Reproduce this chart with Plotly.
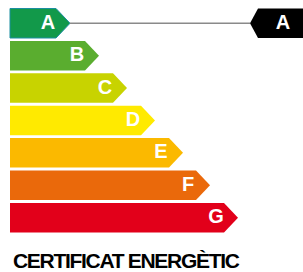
import plotly.graph_objects as go

categories = ["A", "B", "C", "D", "E", "F", "G"]
bar_lengths = [60, 89, 117, 145, 173, 200, 228]
colors = ["#12994a", "#5aad2f", "#c8d300", "#ffea00", "#fbb900", "#ea690b", "#e2001a"]
outline = ["#1b8fa0", None, None, None, None, None, None]
rating = "A"
title_text = "CERTIFICAT ENERGÈTIC"

W, H = 303, 272
x0 = 10
top0 = 8.5
pitch = 32.4
bh = 29.5
arrow = 14

fig = go.Figure()
mids = {}
tips = {}
for i, (cat, ln, col, oc) in enumerate(zip(categories, bar_lengths, colors, outline)):
    t = top0 + i * pitch
    b = t + bh
    m = (t + b) / 2
    tip = x0 + ln
    mids[cat] = m
    tips[cat] = tip
    fig.add_trace(go.Scatter(
        x=[x0, tip - arrow, tip, tip - arrow, x0, x0],
        y=[t, t, m, b, b, t],
        fill="toself", fillcolor=col, mode="lines",
        line=dict(width=1 if oc else 0, color=oc if oc else col),
        hoverinfo="skip", showlegend=False))
    fig.add_trace(go.Scatter(
        x=[tip - 22], y=[m + 0.5], mode="text", text=["<b>" + cat + "</b>"],
        textfont=dict(family="Liberation Sans", size=20, color="white"),
        hoverinfo="skip", showlegend=False))

m = mids[rating]
ti = categories.index(rating)
t = top0 + ti * pitch
b = t + bh
px = 250
fig.add_trace(go.Scatter(
    x=[tips[rating], px], y=[m, m], mode="lines",
    line=dict(color="#8a8a8a", width=1.5), hoverinfo="skip", showlegend=False))
fig.add_trace(go.Scatter(
    x=[px, px + 8, W + 2, W + 2, px + 8, px],
    y=[m, t, t, b, b, m], fill="toself", fillcolor="black", mode="lines",
    line=dict(width=0), hoverinfo="skip", showlegend=False))
fig.add_trace(go.Scatter(
    x=[283], y=[m + 0.5], mode="text", text=["<b>" + rating + "</b>"],
    textfont=dict(family="Liberation Sans", size=20, color="white"),
    hoverinfo="skip", showlegend=False))

fig.add_annotation(x=126, y=260, text="<b>" + title_text + "</b>", showarrow=False,
                   xanchor="center", yanchor="middle",
                   font=dict(family="Liberation Sans", size=21, color="black"))

fig.update_layout(
    width=W, height=H, margin=dict(l=0, r=0, t=0, b=0),
    paper_bgcolor="white", plot_bgcolor="white",
    xaxis=dict(range=[0, W], visible=False, fixedrange=True),
    yaxis=dict(range=[H, 0], visible=False, fixedrange=True),
)
post = ("document.body.style.margin='0';"
        "document.querySelectorAll('.annotation-text').forEach(function(e){e.style.letterSpacing='-1.3px';});")
fig.write_html("out.html", config={"displayModeBar": False}, post_script=post)
